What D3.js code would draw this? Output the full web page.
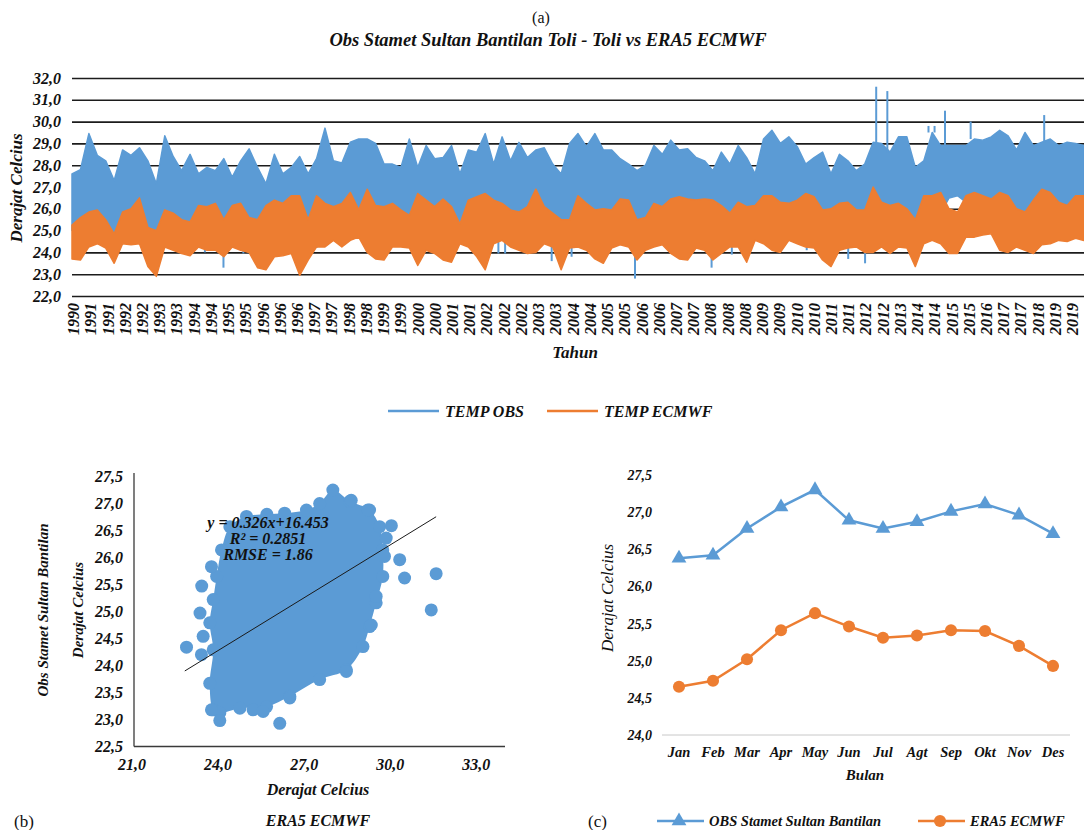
<!DOCTYPE html>
<html lang="en">
<head>
<meta charset="UTF-8">
<title>Obs Stamet Sultan Bantilan vs ERA5 ECMWF</title>
<script src="https://cdn.jsdelivr.net/npm/d3@7"></script>
<style>
  body { margin: 0; background: #fff; }
  text { font-family: "Liberation Serif", "Times New Roman", serif; fill: #111; }
  .bi { font-weight: bold; font-style: italic; }
</style>
</head>
<body>
<svg id="chart" width="1084" height="830"></svg>
<script>
// ---- (a) daily series, read as quarterly upper / lower envelopes ----
var startYear = 1990, stepYears = 0.25;
var obsHi = [27.6,27.8,29.45,28.45,28.2,27.3,28.7,28.45,28.8,28.2,
  27.15,29.35,28.4,27.75,28.5,27.6,27.9,27.75,28.3,27.45,
  28.2,28.75,27.9,27.15,28.5,27.6,27.9,28.4,27.6,28.3,
  29.7,28.2,28.1,29.05,29.2,29.2,29.0,28.05,28.05,27.9,
  29.2,27.9,28.9,28.3,28.35,28.9,27.6,28.7,28.6,29.45,
  28.05,29.3,28.2,29.05,28.35,28.7,28.8,28.05,27.6,29.0,
  29.45,28.85,29.45,28.7,28.7,28.3,28.05,27.75,28.0,28.9,
  28.5,29.15,28.7,28.75,28.35,28.2,27.75,28.6,28.05,28.9,
  28.35,27.6,29.2,29.6,29.0,29.3,28.85,28.05,28.35,28.6,
  27.6,28.5,28.2,27.75,28.05,29.05,29.0,28.6,29.3,29.3,
  27.9,28.2,29.5,28.9,28.9,28.9,28.9,29.2,29.15,29.3,
  29.6,29.35,28.7,29.5,28.9,29.05,29.2,28.9,29.05,29.0,28.9];
var obsLo = [25.0,25.0,25.6,25.4,25.0,24.9,25.3,25.2,25.3,24.7,
  24.8,25.4,25.1,24.9,24.9,25.0,24.8,24.9,24.8,25.2,
  24.8,24.9,24.8,24.7,24.8,25.1,24.6,25.0,24.9,24.8,
  25.3,25.3,25.2,25.5,25.5,24.6,24.8,24.8,25.0,25.1,
  25.2,24.9,25.0,24.9,24.8,24.9,24.7,25.1,25.0,24.8,
  24.6,24.7,25.0,25.1,24.9,25.2,24.9,24.6,24.7,24.6,
  25.2,24.9,24.7,24.6,25.0,25.1,24.9,24.7,24.8,25.0,
  25.1,25.0,24.8,24.8,25.0,25.1,24.7,24.8,24.6,24.8,
  24.8,24.9,25.0,24.7,24.8,25.0,25.0,24.7,25.0,25.0,
  24.9,24.7,24.6,24.8,24.7,25.2,25.3,25.2,25.3,25.1,
  25.2,25.3,25.5,25.8,26.5,26.6,26.3,26.0,25.6,25.7,
  25.2,25.5,25.4,25.3,25.6,25.5,25.5,25.4,25.6,25.4,25.5];
var ecmHi = [25.25,25.6,25.85,25.95,25.5,24.85,25.85,26.0,26.5,25.15,
  25.0,25.95,25.8,25.5,25.4,26.15,26.1,26.25,25.5,26.15,
  26.25,25.6,25.5,26.15,26.4,26.25,26.6,26.6,25.5,26.6,
  26.25,26.1,26.25,26.75,25.95,26.9,26.15,26.1,26.25,25.95,
  25.7,26.7,26.4,26.1,26.45,26.1,25.3,26.4,26.55,26.7,
  26.4,26.25,25.95,25.85,26.1,26.9,26.1,25.8,25.5,25.5,
  26.6,26.25,25.95,26.0,25.95,26.45,26.4,25.5,25.6,26.25,
  26.1,26.45,26.55,26.45,26.4,26.45,26.4,26.15,25.8,26.3,
  26.1,26.15,26.6,26.6,26.3,26.25,26.4,26.7,26.55,25.95,
  26.0,26.25,26.3,25.95,25.95,27.0,26.3,26.15,26.25,26.0,
  25.5,26.6,26.6,26.75,26.0,25.85,26.6,26.75,26.6,26.45,
  26.75,26.6,26.0,25.85,26.4,26.9,26.75,26.3,26.15,26.6,26.6];
var ecmLo = [23.7,23.65,24.25,24.4,24.2,23.5,24.4,24.35,24.4,23.35,
  22.9,24.25,24.1,23.95,23.85,24.25,24.1,24.1,23.8,24.25,
  24.1,24.0,23.3,23.2,23.8,23.85,23.95,22.95,23.65,24.25,
  24.25,24.55,24.25,24.55,24.7,24.0,23.7,23.65,24.25,24.25,
  24.2,23.4,24.1,23.95,23.65,23.55,24.4,24.25,23.8,23.2,
  24.4,24.55,24.25,24.1,23.95,24.0,24.4,24.25,23.2,24.2,
  24.25,24.1,23.7,23.5,24.2,24.35,24.25,23.65,24.1,24.25,
  24.35,23.95,23.7,23.65,24.2,24.1,23.65,23.95,24.25,24.25,
  23.55,24.55,24.4,24.1,24.0,24.55,24.4,24.25,24.2,23.65,
  23.35,24.1,24.2,24.25,24.0,24.0,24.25,23.95,24.25,24.2,
  23.35,24.4,24.55,24.4,23.95,23.95,24.7,24.7,24.8,24.85,
  24.1,24.0,24.25,24.1,23.95,24.35,24.4,24.55,24.5,24.65,24.55];
// single-day OBS extremes standing out of the band
var spikeYears  = [2013.84,2014.17,2015.88,2016.64,2018.82,2015.39,2015.57,
  1994.49,1995.87,1993.94,1995.08,1997.25,2002.64,2002.84,2004.22,2004.81,2006.69,2008.96,2009.56,2011.78,2013.01,2013.51];
var spikeValues = [31.6,31.4,30.5,30.0,30.3,29.8,29.8,
  23.3,23.5,24.0,23.95,24.2,23.95,23.95,23.6,23.8,22.8,23.3,23.9,24.1,23.7,23.5];
var yearLabels = ["1990","1991","1991","1992","1992","1993","1993","1994","1994","1995","1995",
  "1996","1996","1996","1997","1997","1998","1998","1999","1999","2000","2000","2001","2001",
  "2002","2002","2002","2003","2003","2004","2004","2005","2005","2006","2006","2007","2007",
  "2008","2008","2008","2009","2009","2010","2010","2011","2011","2012","2012","2013",
  "2014","2014","2015","2015","2016","2017","2017","2018","2019","2019"];
var topTicks = [22,23,24,25,26,27,28,29,30,31,32];

// ---- (b) scatter: dense cloud outline + separate points ----
var eraEdge = [23.83,23.71,23.83,23.71,23.83,23.95,24.12,24.41,24.99,25.7,26.32,27.08,27.54,28.0,28.59,
  29.28,29.63,29.74,29.74,29.51,29.28,29.05,28.47,27.54,26.5,25.69,24.76,24.06];
var obsEdge = [23.18,23.67,24.29,24.79,25.22,25.65,26.14,26.57,26.76,26.8,26.82,26.88,27.0,27.25,27.04,
  26.88,26.57,26.14,25.65,25.16,24.72,24.35,23.92,23.74,23.43,23.24,23.21,23.12];
var eraPts = [22.9,23.37,23.48,23.42,23.43,23.77,23.77,24.06,26.15,30.04,30.33,30.5,31.43,31.6,
  29.8,29.86,29.51,29.34,29.22,28.64,25.22,25.57,26.5,28.47];
var obsPts = [24.34,24.97,24.54,24.2,25.47,25.83,23.18,22.98,22.93,26.59,25.96,25.62,25.03,25.7,
  26.02,26.36,25.28,24.75,26.88,27.06,23.18,23.15,23.4,23.89];
var fitSlope = 0.326, fitIntercept = 16.453, fitRange = [22.84, 31.6];
var fitText = ["y = 0.326x+16.453", "R\u00b2 = 0.2851", "RMSE = 1.86"];
var scatterXTicks = [21,24,27,30,33];
var scatterYTicks = [22.5,23,23.5,24,24.5,25,25.5,26,26.5,27,27.5];

// ---- (c) monthly means ----
var months = ["Jan","Feb","Mar","Apr","May","Jun","Jul","Agt","Sep","Okt","Nov","Des"];
var obsMonthly = [26.38,26.42,26.78,27.07,27.30,26.89,26.78,26.87,27.01,27.11,26.96,26.71];
var ecmMonthly = [24.65,24.73,25.02,25.41,25.64,25.46,25.31,25.34,25.41,25.40,25.20,24.93];
var lineYTicks = [24,24.5,25,25.5,26,26.5,27,27.5];

var BLUE = "#5b9bd5", ORANGE = "#ed7d31";
var comma = function (d) { return d3.format(".1f")(d).replace(".", ","); };
var svg = d3.select("#chart");

// ================= (a) =================
svg.append("text").attr("x", 541).attr("y", 23).attr("text-anchor", "middle")
  .style("font-size", "16px").text("(a)");
svg.append("text").attr("class", "bi").attr("x", 548).attr("y", 46).attr("text-anchor", "middle")
  .style("font-size", "18.5px").text("Obs Stamet Sultan Bantilan Toli - Toli vs ERA5 ECMWF");

var xT = d3.scaleLinear().domain([1990, 2020]).range([72, 1084]);
var yT = d3.scaleLinear().domain([22, 32]).range([296, 78]);
var tOf = function (i) { return startYear + i * stepYears; };

var gridA = svg.append("g").attr("transform", "translate(72,0)")
  .call(d3.axisLeft(yT).tickValues(topTicks).tickSize(-(1084 - 72)).tickPadding(11).tickFormat(comma));
gridA.select(".domain").remove();
gridA.selectAll("line").attr("stroke", "#1c1c1c").attr("stroke-width", 1.6);
gridA.selectAll("text").attr("class", "bi").style("font-size", "16px").style("font-family", null);

var bandArea = function (hi, lo) {
  return d3.area().x(function (d, i) { return xT(tOf(i)); })
    .y0(function (d, i) { return yT(lo[i]); })
    .y1(function (d, i) { return yT(hi[i]); });
};
svg.append("path").datum(obsHi).attr("d", bandArea(obsHi, obsLo)(obsHi))
  .attr("fill", BLUE).attr("stroke", BLUE).attr("stroke-width", 1.5).attr("stroke-linejoin", "round");
svg.append("g").selectAll("line").data(spikeYears).join("line")
  .attr("x1", function (d) { return xT(d); }).attr("x2", function (d) { return xT(d); })
  .attr("y1", function (d, i) {
    var k = Math.round((d - startYear) / stepYears);
    return yT(spikeValues[i] > obsHi[k] ? obsHi[k] : obsLo[k]);
  })
  .attr("y2", function (d, i) { return yT(spikeValues[i]); })
  .attr("stroke", BLUE).attr("stroke-width", 2);
svg.append("path").datum(ecmHi).attr("d", bandArea(ecmHi, ecmLo)(ecmHi))
  .attr("fill", ORANGE).attr("stroke", ORANGE).attr("stroke-width", 1.5).attr("stroke-linejoin", "round");

var xLab = d3.scalePoint().domain(d3.range(yearLabels.length)).range([73, 1072]);
var axA = svg.append("g").attr("transform", "translate(0,296)")
  .call(d3.axisBottom(xLab).tickSize(0).tickFormat(function (i) { return yearLabels[i]; }));
axA.select(".domain").remove();
axA.selectAll("text").attr("class", "bi").style("font-size", "16px").style("font-family", null)
  .attr("transform", "rotate(-90)").attr("y", 0).attr("x", -7).attr("dy", "0.35em")
  .style("text-anchor", "end");

svg.append("text").attr("class", "bi").attr("transform", "translate(22,188) rotate(-90)")
  .attr("text-anchor", "middle").style("font-size", "17px").text("Derajat Celcius");
svg.append("text").attr("class", "bi").attr("x", 575).attr("y", 358).attr("text-anchor", "middle")
  .style("font-size", "17px").text("Tahun");

var legA = [{ name: "TEMP OBS", c: BLUE, x: 388 }, { name: "TEMP ECMWF", c: ORANGE, x: 547 }];
var lg = svg.append("g").selectAll("g").data(legA).join("g")
  .attr("transform", function (d) { return "translate(" + d.x + ",411)"; });
lg.append("line").attr("x1", 0).attr("x2", 51).attr("stroke", function (d) { return d.c; }).attr("stroke-width", 2.5);
lg.append("text").attr("class", "bi").attr("x", 57).attr("y", 5.5).style("font-size", "16px")
  .text(function (d) { return d.name; });

// ================= (b) =================
var xS = d3.scaleLinear().domain([21, 34]).range([132, 505]);
var yS = d3.scaleLinear().domain([22.5, 27.5]).range([746.5, 476.5]);

svg.append("line").attr("x1", xS(21) + 2).attr("x2", xS(21) + 2).attr("y1", 473).attr("y2", yS(22.5))
  .attr("stroke", "#3a3a3a").attr("stroke-width", 1.3);
svg.append("line").attr("x1", xS(21) + 2).attr("x2", xS(34)).attr("y1", yS(22.5)).attr("y2", yS(22.5))
  .attr("stroke", "#3a3a3a").attr("stroke-width", 1.3);

svg.append("g").selectAll("text").data(scatterYTicks).join("text").attr("class", "bi")
  .attr("x", 123).attr("y", function (d) { return yS(d) + 5.5; }).attr("text-anchor", "end")
  .style("font-size", "16px").text(comma);
svg.append("g").selectAll("text").data(scatterXTicks).join("text").attr("class", "bi")
  .attr("x", function (d) { return xS(d); }).attr("y", 770).attr("text-anchor", "middle")
  .style("font-size", "16px").text(comma);

var cloud = eraEdge.map(function (d, i) { return [xS(d), yS(obsEdge[i])]; });
svg.append("path").attr("d", d3.line().curve(d3.curveCatmullRomClosed)(cloud)).attr("fill", BLUE);
var pts = cloud.concat(eraPts.map(function (d, i) { return [xS(d), yS(obsPts[i])]; }));
svg.append("g").selectAll("circle").data(pts).join("circle")
  .attr("cx", function (d) { return d[0]; }).attr("cy", function (d) { return d[1]; })
  .attr("r", 6.5).attr("fill", BLUE);

svg.append("line")
  .attr("x1", xS(fitRange[0])).attr("y1", yS(fitSlope * fitRange[0] + fitIntercept))
  .attr("x2", xS(fitRange[1])).attr("y2", yS(fitSlope * fitRange[1] + fitIntercept))
  .attr("stroke", "#1a1a1a").attr("stroke-width", 1);
svg.append("g").selectAll("text").data(fitText).join("text").attr("class", "bi")
  .attr("x", 268).attr("y", function (d, i) { return 528 + i * 16; }).attr("text-anchor", "middle")
  .style("font-size", "16px").text(function (d) { return d; });

svg.append("text").attr("class", "bi").attr("transform", "translate(83,610) rotate(-90)")
  .attr("text-anchor", "middle").style("font-size", "15px").text("Derajat Celcius");
svg.append("text").attr("class", "bi").attr("transform", "translate(48,610) rotate(-90)")
  .attr("text-anchor", "middle").style("font-size", "15px").text("Obs Stamet Sultan Bantilan");
svg.append("text").attr("class", "bi").attr("x", 318).attr("y", 795).attr("text-anchor", "middle")
  .style("font-size", "16px").text("Derajat Celcius");
svg.append("text").attr("class", "bi").attr("x", 318).attr("y", 826).attr("text-anchor", "middle")
  .style("font-size", "16px").text("ERA5 ECMWF");
svg.append("text").attr("x", 14).attr("y", 827).style("font-size", "17px").text("(b)");

// ================= (c) =================
var xC = d3.scaleBand().domain(months).range([662, 1070]);
var yC = d3.scaleLinear().domain([24, 27.5]).range([735, 475]);
var mid = function (m) { return xC(m) + xC.bandwidth() / 2; };

svg.append("line").attr("x1", 662).attr("x2", 1070).attr("y1", yC(24)).attr("y2", yC(24))
  .attr("stroke", "#c8c8c8").attr("stroke-width", 1);
svg.append("g").selectAll("text").data(lineYTicks).join("text").attr("class", "bi")
  .attr("x", 652).attr("y", function (d) { return yC(d) + 5; }).attr("text-anchor", "end")
  .style("font-size", "14px").text(comma);
svg.append("g").selectAll("text").data(months).join("text").attr("class", "bi")
  .attr("x", mid).attr("y", 757).attr("text-anchor", "middle").style("font-size", "14.5px")
  .text(function (d) { return d; });
svg.append("text").attr("class", "bi").attr("x", 865).attr("y", 780).attr("text-anchor", "middle")
  .style("font-size", "15px").text("Bulan");
svg.append("text").attr("transform", "translate(613,598) rotate(-90)").attr("text-anchor", "middle")
  .style("font-size", "17px").style("font-style", "italic").text("Derajat Celcius");

var lineC = d3.line().x(function (d, i) { return mid(months[i]); }).y(function (d) { return yC(d); });
svg.append("path").datum(obsMonthly).attr("d", lineC).attr("fill", "none").attr("stroke", BLUE).attr("stroke-width", 2.5);
svg.append("path").datum(ecmMonthly).attr("d", lineC).attr("fill", "none").attr("stroke", ORANGE).attr("stroke-width", 2.5);
var tri = d3.symbol().type(d3.symbolTriangle).size(95);
var dot = d3.symbol().type(d3.symbolCircle).size(115);
svg.append("g").selectAll("path").data(obsMonthly).join("path").attr("d", tri)
  .attr("transform", function (d, i) { return "translate(" + mid(months[i]) + "," + yC(d) + ")"; })
  .attr("fill", BLUE);
svg.append("g").selectAll("path").data(ecmMonthly).join("path").attr("d", dot)
  .attr("transform", function (d, i) { return "translate(" + mid(months[i]) + "," + yC(d) + ")"; })
  .attr("fill", ORANGE);

svg.append("text").attr("x", 588).attr("y", 827).style("font-size", "17px").text("(c)");
var legC = [{ name: "OBS Stamet Sultan Bantilan", c: BLUE, x: 657, s: tri },
            { name: "ERA5 ECMWF", c: ORANGE, x: 918, s: dot }];
var lc = svg.append("g").selectAll("g").data(legC).join("g")
  .attr("transform", function (d) { return "translate(" + d.x + ",821)"; });
lc.append("line").attr("x1", 0).attr("x2", 47).attr("stroke", function (d) { return d.c; }).attr("stroke-width", 2.5);
lc.append("path").attr("d", function (d) { return d.s(); }).attr("transform", "translate(22,0)")
  .attr("fill", function (d) { return d.c; });
lc.append("text").attr("class", "bi").attr("x", 52).attr("y", 5).style("font-size", "14.5px")
  .text(function (d) { return d.name; });
</script>
</body>
</html>
